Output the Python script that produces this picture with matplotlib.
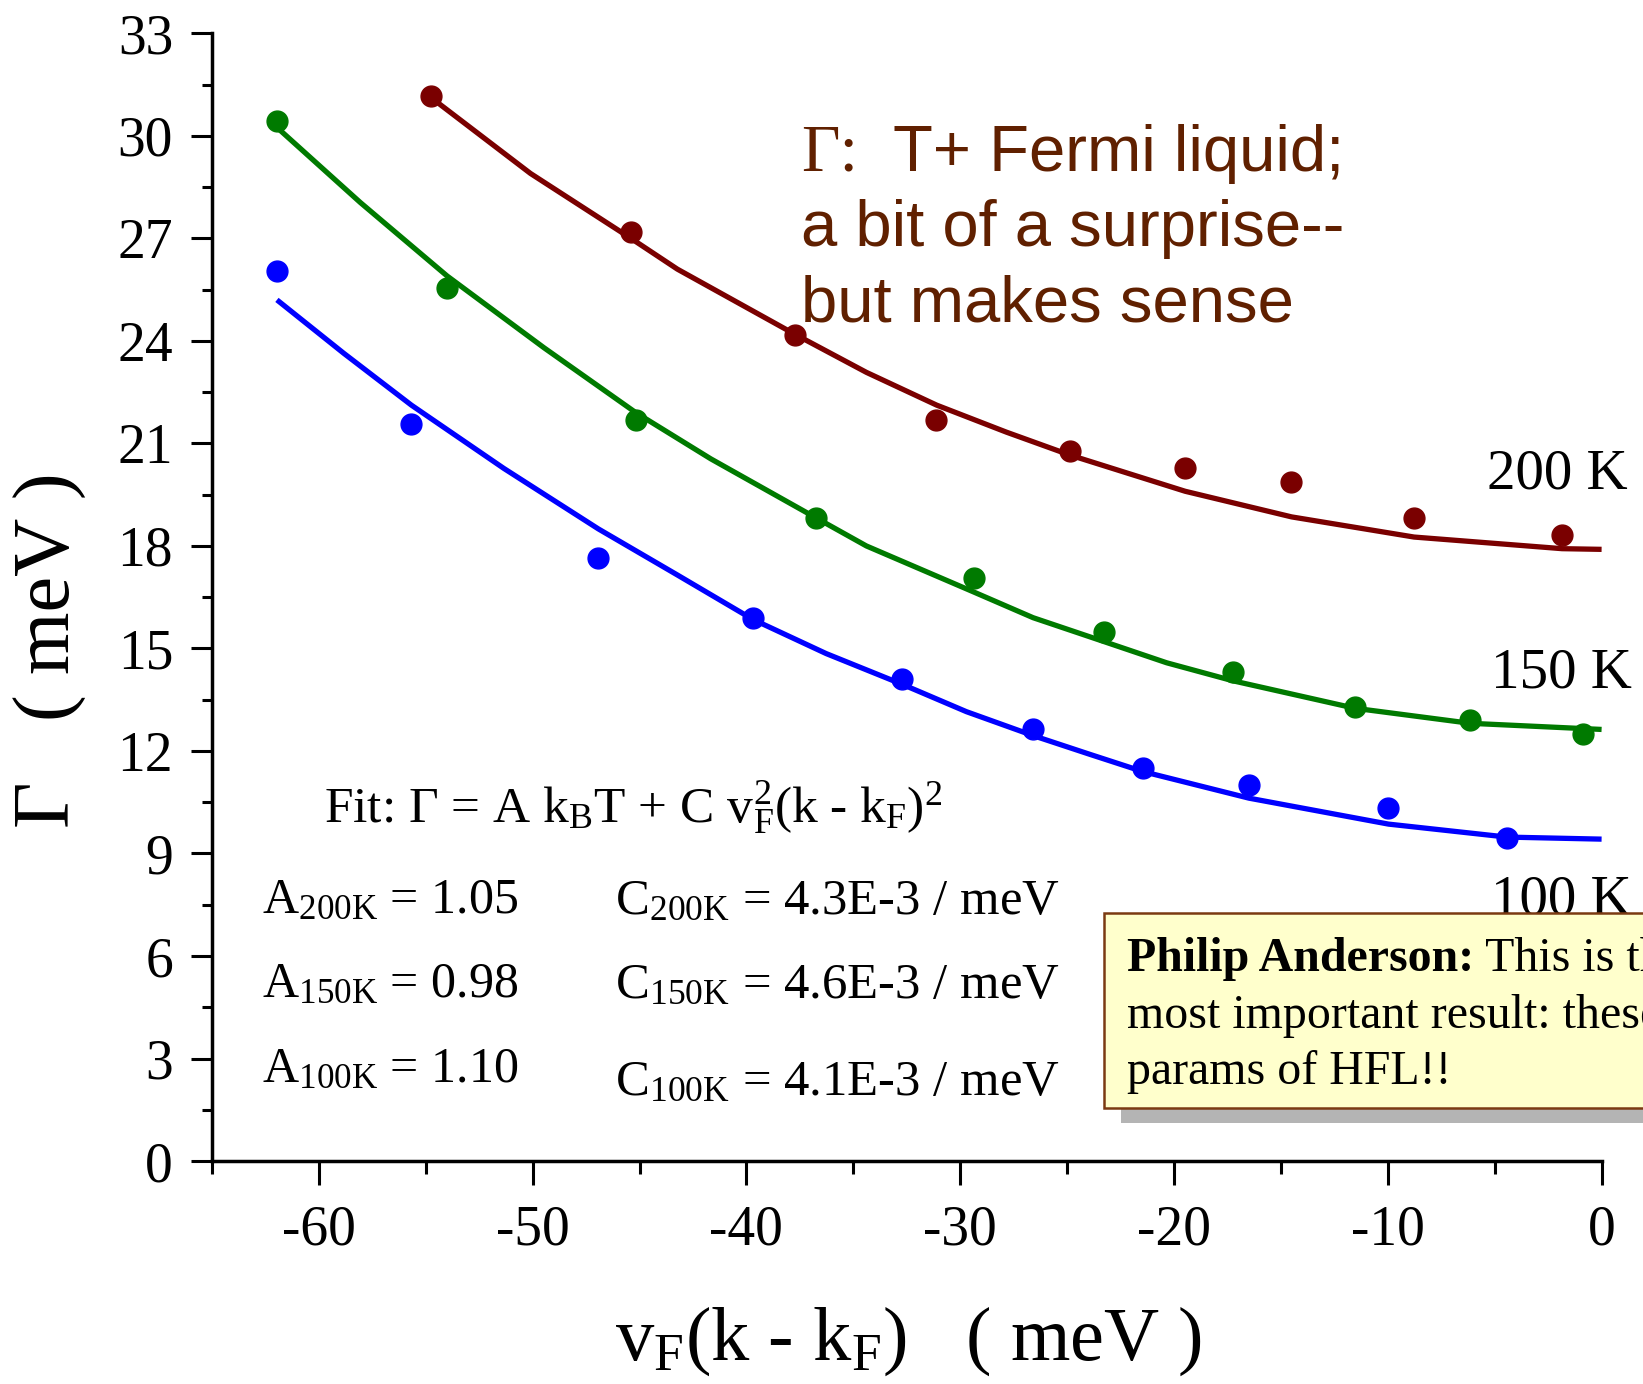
import matplotlib
matplotlib.use("Agg")
import matplotlib.pyplot as plt
from matplotlib.ticker import MultipleLocator
from matplotlib.patches import Rectangle
from matplotlib.transforms import offset_copy

plt.rcParams['font.family'] = ['Liberation Serif', 'DejaVu Serif']
plt.rcParams['mathtext.fontset'] = 'custom'
plt.rcParams['mathtext.rm'] = 'Liberation Serif'
plt.rcParams['mathtext.it'] = 'Liberation Serif:italic'
plt.rcParams['axes.unicode_minus'] = False

# ---- data ----
x_200 = [-54.75, -45.41, -37.75, -31.11, -24.87, -19.48, -14.52, -8.77, -1.85]
y_200 = [31.18, 27.18, 24.17, 21.69, 20.78, 20.27, 19.88, 18.81, 18.32]
x_150 = [-61.96, -54.0, -45.17, -36.74, -29.36, -23.27, -17.22, -11.54, -6.15, -0.86]
y_150 = [30.44, 25.54, 21.69, 18.81, 17.05, 15.49, 14.32, 13.30, 12.91, 12.50]
x_100 = [-61.96, -55.67, -46.93, -39.70, -32.71, -26.59, -21.47, -16.50, -9.97, -4.43]
y_100 = [26.05, 21.56, 17.66, 15.88, 14.10, 12.63, 11.51, 11.00, 10.32, 9.44]

# fit curves
fx_200 = [-54.5, -50.1, -45.4, -43.23, -37.75, -34.39, -31.1, -27.84, -24.87,
          -19.48, -14.5, -8.77, -1.85, 0.0]
fy_200 = [31.0, 28.9, 27.0, 26.1, 24.2, 23.08, 22.12, 21.33, 20.66,
          19.6, 18.85, 18.26, 17.92, 17.9]
fx_150 = [-62.0, -58.06, -54.0, -49.47, -45.17, -41.67, -36.74, -34.39, -29.36,
          -26.59, -23.27, -20.34, -17.22, -11.54, -6.15, 0.0]
fy_150 = [30.27, 28.05, 25.9, 23.8, 21.9, 20.55, 18.82, 18.0, 16.65,
          15.9, 15.2, 14.58, 14.05, 13.25, 12.81, 12.63]
fx_100 = [-61.96, -58.84, -55.67, -51.35, -46.93, -43.23, -39.7, -36.27, -32.71,
          -29.71, -26.59, -23.93, -21.47, -16.5, -9.97, -4.43, 0.0]
fy_100 = [25.2, 23.64, 22.12, 20.27, 18.5, 17.15, 15.85, 14.85, 13.95,
          13.15, 12.45, 11.9, 11.4, 10.62, 9.86, 9.48, 9.42]

x_ticks = [-60, -50, -40, -30, -20, -10, 0]
x_ticklabels = ['-60', '-50', '-40', '-30', '-20', '-10', '0']
y_ticks = [0, 3, 6, 9, 12, 15, 18, 21, 24, 27, 30, 33]
y_ticklabels = ['0', '3', '6', '9', '12', '15', '18', '21', '24', '27', '30', '33']

c200, c150, c100 = '#7A0000', '#007A00', '#0000FF'
brown = '#602000'

fig = plt.figure(figsize=(16.43, 13.84), dpi=100)
ax = fig.add_axes([0.129, 0.1611, 0.9748 - 0.129, 0.9759 - 0.1611])
ax.set_xlim(-65, 0)
ax.set_ylim(0, 33)

for fx, fy, px, py, c in [(fx_200, fy_200, x_200, y_200, c200),
                          (fx_150, fy_150, x_150, y_150, c150),
                          (fx_100, fy_100, x_100, y_100, c100)]:
    ax.plot(fx, fy, '-', color=c, lw=3.8, zorder=3, clip_on=False,
            solid_joinstyle='round', solid_capstyle='butt')
    ax.plot(px, py, 'o', color=c, ms=15, mec=c, zorder=4, clip_on=False)

for s in ['top', 'right']:
    ax.spines[s].set_visible(False)
for s in ['left', 'bottom']:
    ax.spines[s].set_linewidth(2.5)

ax.set_xticks(x_ticks)
ax.set_xticklabels(x_ticklabels)
ax.set_yticks(y_ticks)
ax.set_yticklabels(y_ticklabels)
ax.xaxis.set_minor_locator(MultipleLocator(5))
ax.yaxis.set_minor_locator(MultipleLocator(1.5))
ax.tick_params(axis='x', which='major', direction='out', length=17, width=2.2, pad=14, labelsize=40)
ax.tick_params(axis='x', which='minor', direction='out', length=9, width=2.2)
ax.tick_params(axis='y', which='major', direction='out', length=15, width=2.2, pad=13, labelsize=40)
ax.tick_params(axis='y', which='minor', direction='out', length=7.5, width=2.2)

# axis labels
fig.text(0.0304, 0.5303, 'Γ   ( meV )', rotation=90, ha='center', va='center', fontsize=58)
fig.text(0.553, 0.0173, r'v$_\mathregular{F}$(k - k$_\mathregular{F}$)   ( meV )',
         ha='center', va='baseline', fontsize=55)

# series labels
ax.text(-5.38, 19.69, '200 K', fontsize=41, va='baseline', ha='left')
ax.text(-5.18, 13.86, '150 K', fontsize=41, va='baseline', ha='left')
ax.text(-5.18, 7.2, '100 K', fontsize=41, va='baseline', ha='left')

# fit text
ax.text(-59.75, 9.89,
        r'Fit: Γ = A k$_\mathregular{B}$T + C v$_\mathregular{F}^\mathregular{2}$(k - k$_\mathregular{F}$)$^\mathregular{2}$',
        fontsize=37, va='baseline', ha='left')
a_lines = [(7.26, r'A$_\mathregular{200K}$ = 1.05'),
           (4.80, r'A$_\mathregular{150K}$ = 0.98'),
           (2.31, r'A$_\mathregular{100K}$ = 1.10')]
c_lines = [(7.23, r'C$_\mathregular{200K}$ = 4.3E-3 / meV'),
           (4.77, r'C$_\mathregular{150K}$ = 4.6E-3 / meV'),
           (1.93, r'C$_\mathregular{100K}$ = 4.1E-3 / meV')]
for yv, t in a_lines:
    ax.text(-62.65, yv, t, fontsize=36, va='baseline', ha='left')
for yv, t in c_lines:
    ax.text(-46.17, yv, t, fontsize=36.5, va='baseline', ha='left')

# brown annotation
ax.text(-37.45, 28.98, 'Γ:', fontsize=48, color=brown, va='baseline', ha='left')
ax.text(-33.14, 28.98, 'T+ Fermi liquid;', fontsize=47, color=brown, va='baseline',
        ha='left', family='Liberation Sans')
ax.text(-37.45, 26.77, 'a bit of a surprise--', fontsize=47, color=brown, va='baseline',
        ha='left', family='Liberation Sans')
ax.text(-37.45, 24.56, 'but makes sense', fontsize=47, color=brown, va='baseline',
        ha='left', family='Liberation Sans')

# note box
shadow = Rectangle((0.6823, 0.1886), 0.4, 0.1409, transform=fig.transFigure,
                   facecolor='#B4B4B4', edgecolor='none', zorder=9)
box = Rectangle((0.672, 0.1994), 0.4, 0.1409, transform=fig.transFigure,
                facecolor='#FFFFCC', edgecolor='#7B3A12', lw=1.8, zorder=10)
fig.add_artist(shadow)
fig.add_artist(box)
t_bold = fig.text(0.686, 0.2984, 'Philip Anderson:', fontsize=34.5, weight='bold', zorder=11)
fig.canvas.draw()
bb = t_bold.get_window_extent(fig.canvas.get_renderer())
fig.text(bb.x1 / fig.bbox.width, 0.2984, ' This is the', fontsize=34.5, zorder=11)
fig.text(0.686, 0.2572, 'most important result: these', fontsize=34.5, zorder=11)
fig.text(0.686, 0.2168, 'params of HFL!!', fontsize=34.5, zorder=11)

fig.savefig('out.png', dpi=100)
